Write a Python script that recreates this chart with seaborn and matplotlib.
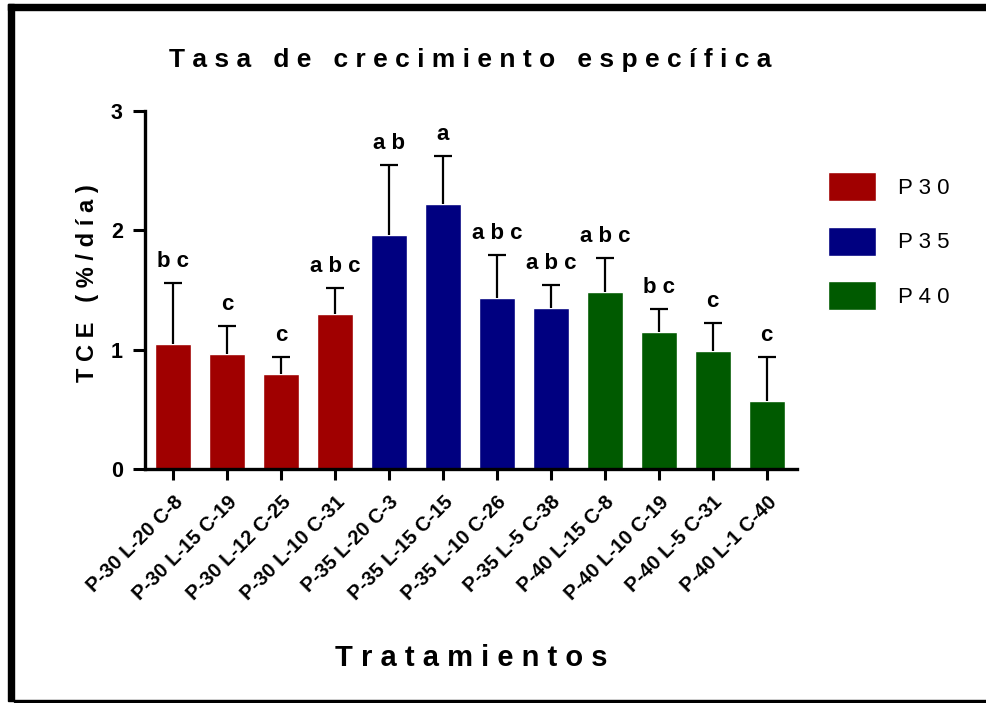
import pandas as pd
import matplotlib
matplotlib.use("Agg")
import matplotlib.pyplot as plt
import matplotlib.transforms as mtransforms
import seaborn as sns
from matplotlib.patches import Rectangle

# values
labels = ["P-30 L-20 C-8", "P-30 L-15 C-19", "P-30 L-12 C-25", "P-30 L-10 C-31",
          "P-35 L-20 C-3", "P-35 L-15 C-15", "P-35 L-10 C-26", "P-35 L-5 C-38",
          "P-40 L-15 C-8", "P-40 L-10 C-19", "P-40 L-5 C-31", "P-40 L-1 C-40"]
groups = ["P30"] * 4 + ["P35"] * 4 + ["P40"] * 4
means = [1.05, 0.96, 0.80, 1.30, 1.96, 2.22, 1.43, 1.35, 1.48, 1.15, 0.99, 0.57]
sd = [0.51, 0.24, 0.14, 0.22, 0.59, 0.40, 0.36, 0.19, 0.29, 0.19, 0.23, 0.37]
letters = ["bc", "c", "c", "abc", "ab", "a", "abc", "abc", "abc", "bc", "c", "c"]
palette = {"P30": "#A00000", "P35": "#000080", "P40": "#005A00"}


def spaced(s, gap=" "):
    return gap.join(s)


df = pd.DataFrame({"trat": labels, "grupo": groups, "tce": means, "sd": sd})

sns.set_style("ticks")
plt.rcParams["font.family"] = ["Liberation Sans", "DejaVu Sans"]
plt.rcParams.update({"text.color": "black", "axes.labelcolor": "black",
                     "xtick.color": "black", "ytick.color": "black",
                     "axes.edgecolor": "black"})

fig = plt.figure(figsize=(9.86, 7.03), dpi=100)
ax = fig.add_axes([145 / 986, 1 - 469 / 703, 652 / 986, 358 / 703])

sns.barplot(data=df, x="trat", y="tce", hue="grupo", palette=palette,
            dodge=False, width=0.67, saturation=1, ax=ax, legend=True)

# one sided error bars (upper only)
xs = list(range(len(labels)))
eb = ax.errorbar(xs, df["tce"], yerr=[[0] * len(sd), df["sd"]], fmt="none",
                 ecolor="black", elinewidth=1.6, capsize=6.5, capthick=1.6, zorder=3)
eb[1][0].set_visible(False)

# significance letters
for x, m, s, lt in zip(xs, means, sd, letters):
    ax.annotate(spaced(lt), (x, m + s), xytext=(0, 8), textcoords="offset points",
                ha="center", va="bottom", fontsize=16, fontweight="bold")

ax.set_xlim(-0.52, 11.56)
ax.set_ylim(0, 3)
ax.set_yticks([0, 1, 2, 3])
ax.set_yticklabels(["0", "1", "2", "3"], fontsize=15.5, fontweight="bold")
ax.set_xticks(xs)
ax.set_xticklabels(labels, rotation=45, ha="right", rotation_mode="anchor",
                   fontsize=14.5, fontweight="bold")
shift = mtransforms.ScaledTranslation(-4 / 72, 0, fig.dpi_scale_trans)
for t in ax.get_xticklabels():
    t.set_transform(t.get_transform() + shift)
ax.tick_params(axis="y", length=9, width=2.2, pad=7)
ax.tick_params(axis="x", length=8, width=2.2, pad=9)
for side in ["top", "right"]:
    ax.spines[side].set_visible(False)
for side in ["left", "bottom"]:
    ax.spines[side].set_linewidth(2.4)

ax.set_xlabel(spaced("Tratamientos"), fontsize=21, fontweight="bold")
ax.xaxis.set_label_coords(0.5, -0.49)
ax.set_ylabel(spaced("TCE (%/día)"), fontsize=17, fontweight="bold")
ax.yaxis.set_label_coords(-0.07, 0.52)

fig.text(0.477, 1 - 60 / 703, spaced("Tasa de crecimiento específica"),
         ha="center", va="center", fontsize=19, fontweight="bold")

handles, legend_labels = ax.get_legend_handles_labels()
ax.legend(handles, [spaced(l) for l in legend_labels], loc="upper left",
          bbox_to_anchor=(828 / 986, 1 - 172 / 703), bbox_transform=fig.transFigure,
          frameon=False, fontsize=16, handlelength=2.15, handleheight=1.63,
          labelspacing=1.15, handletextpad=1.0, borderpad=0, borderaxespad=0)

# outer frame
fig.add_artist(Rectangle((8 / 986, 2 / 703), 6 / 986, 697 / 703, color="black",
                         transform=fig.transFigure))
fig.add_artist(Rectangle((8 / 986, 1 - 10 / 703), 978 / 986, 6 / 703, color="black",
                         transform=fig.transFigure))
fig.add_artist(Rectangle((14 / 986, 1 / 703), 972 / 986, 2 / 703, color="black",
                         transform=fig.transFigure))

fig.savefig("out.png", dpi=100)
